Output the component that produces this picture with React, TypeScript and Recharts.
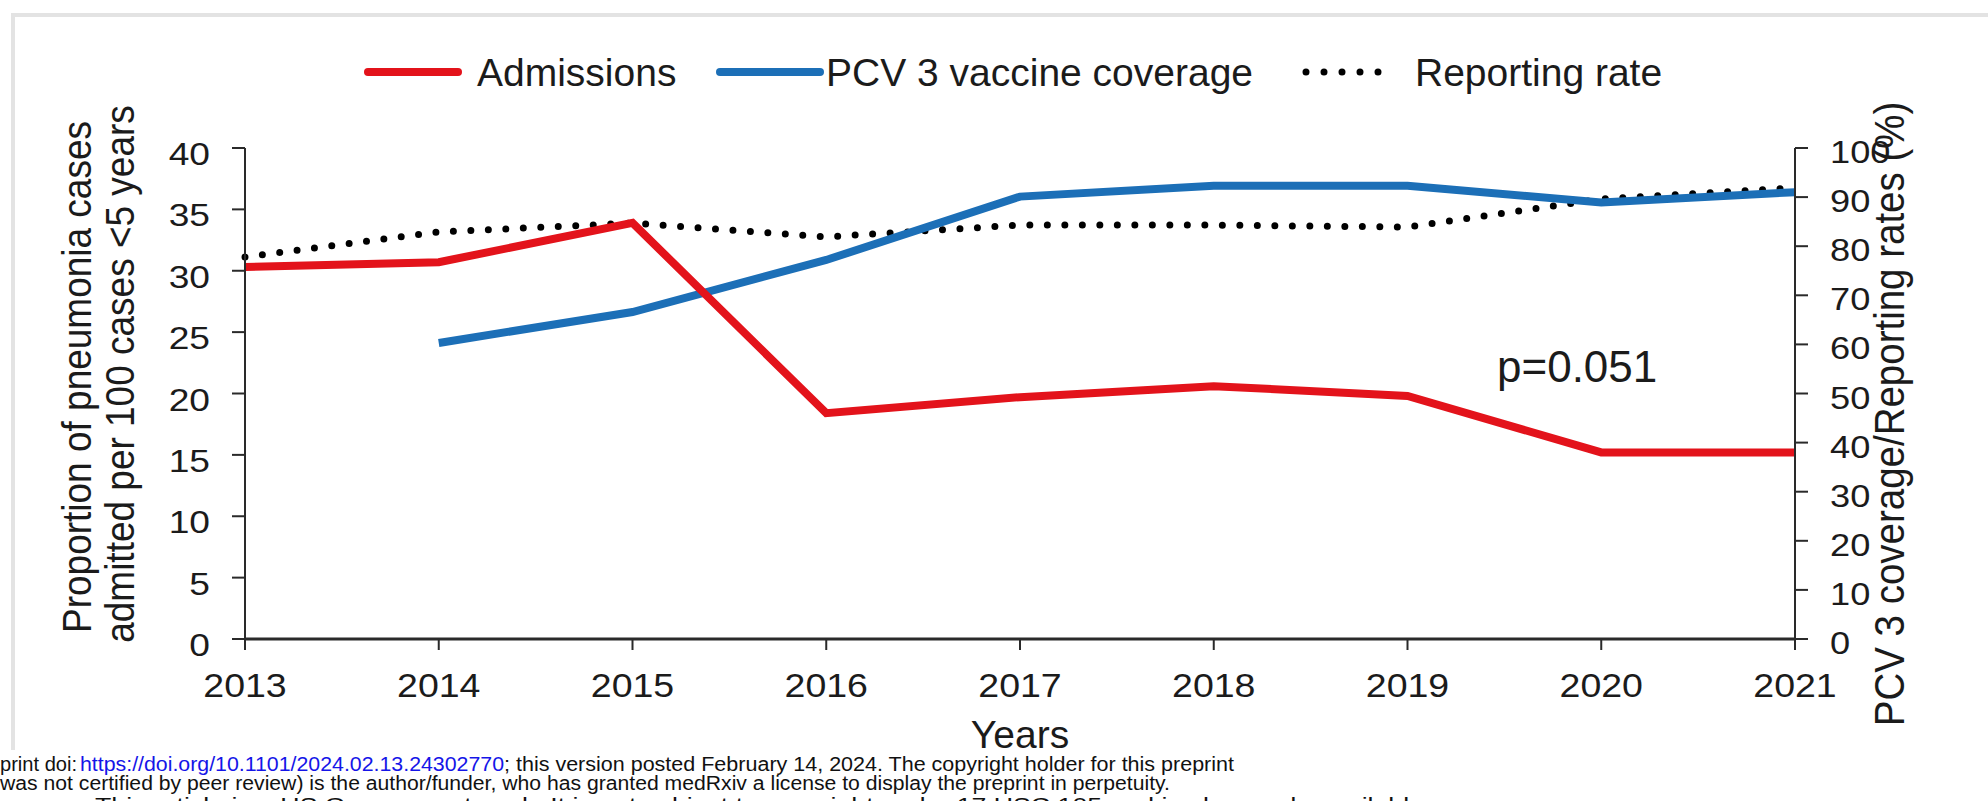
import React from "react";
import { LineChart, Line, XAxis, YAxis, Legend } from "recharts";

const YEARS = ["2013", "2014", "2015", "2016", "2017", "2018", "2019", "2020", "2021"];
const ADMISSIONS = [30.3, 30.7, 33.9, 18.4, 19.7, 20.6, 19.8, 15.2, 15.2];
const PCV3_COVERAGE = [null, 60.3, 66.6, 77.2, 90.1, 92.3, 92.3, 88.9, 91.0];
const REPORTING_RATE = [77.8, 82.9, 84.7, 81.9, 84.3, 84.3, 83.9, 89.6, 91.9];
const LEFT_TICKS = [0, 5, 10, 15, 20, 25, 30, 35, 40];
const RIGHT_TICKS = [0, 10, 20, 30, 40, 50, 60, 70, 80, 90, 100];

const FONT = '"Liberation Sans", Arial, sans-serif';
const INK = "#1b1b1b";
const RED = "#e3131b";
const BLUE = "#1c6fb7";

const data = YEARS.map((year, i) => ({
  year,
  admissions: ADMISSIONS[i],
  coverage: PCV3_COVERAGE[i],
  reporting: REPORTING_RATE[i],
}));

// legend layout: swatch start, swatch end, text x
const LEGEND_ITEMS = [
  { name: "Admissions", color: RED, x1: 368, x2: 458, tx: 477, dotted: false },
  { name: "PCV 3 vaccine coverage", color: BLUE, x1: 720, x2: 820, tx: 826, dotted: false },
  { name: "Reporting rate", color: "#000", x1: 1306, x2: 1396, tx: 1415, dotted: true },
];

function LegendContent() {
  return (
    <svg width={1988} height={110} style={{ display: "block" }}>
      {LEGEND_ITEMS.map((it) => (
        <g key={it.name}>
          <line
            x1={it.x1}
            x2={it.x2}
            y1={72}
            y2={72}
            stroke={it.color}
            strokeWidth={it.dotted ? 7 : 8}
            strokeLinecap="round"
            strokeDasharray={it.dotted ? "0 18" : undefined}
          />
          <text x={it.tx} y={86} fontSize={39} fontFamily={FONT} fill={INK}>
            {it.name}
          </text>
        </g>
      ))}
    </svg>
  );
}

function XTick(props: any) {
  const { x, y, payload } = props;
  return (
    <g transform={`translate(${x},${y}) scale(1.12,1)`}>
      <text textAnchor="middle" dy={24} fontSize={33.5} fontFamily={FONT} fill={INK}>
        {payload.value}
      </text>
    </g>
  );
}

function LeftTick(props: any) {
  const { x, y, payload } = props;
  return (
    <g transform={`translate(${x},${y}) scale(1.18,1)`}>
      <text textAnchor="end" dy={17} fontSize={31.5} fontFamily={FONT} fill={INK}>
        {payload.value}
      </text>
    </g>
  );
}

function RightTick(props: any) {
  const { x, y, payload } = props;
  return (
    <g transform={`translate(${x},${y}) scale(1.15,1)`}>
      <text textAnchor="start" dy={15} fontSize={31.5} fontFamily={FONT} fill={INK}>
        {payload.value}
      </text>
    </g>
  );
}

function LeftTitle() {
  return (
    <g fontFamily={FONT} fontSize={37} fill={INK}>
      <g transform="translate(91,377) rotate(-90) scale(1,1.12)">
        <text textAnchor="middle">Proportion of pneumonia cases</text>
      </g>
      <g transform="translate(134,374) rotate(-90) scale(1,1.12)">
        <text textAnchor="middle">admitted per 100 cases &lt;5 years</text>
      </g>
    </g>
  );
}

function RightTitle() {
  return (
    <g transform="translate(1904,414) rotate(-90) scale(1,1.08)">
      <text textAnchor="middle" fontFamily={FONT} fontSize={38.5} fill={INK}>
        PCV 3 coverage/Reporting rates (%)
      </text>
    </g>
  );
}

function YearsTitle(props: any) {
  const vb = props.viewBox || { x: 245, y: 639, width: 1550 };
  return (
    <text
      x={vb.x + vb.width / 2}
      y={vb.y + 109}
      textAnchor="middle"
      fontFamily={FONT}
      fontSize={39}
      fill={INK}
    >
      Years
    </text>
  );
}

function Overlay() {
  const foot = { fontFamily: FONT, fontSize: 20, fill: "#111" } as const;
  return (
    <svg
      width={1988}
      height={801}
      style={{ position: "absolute", left: 0, top: 0, pointerEvents: "none" }}
    >
      <path d="M13 750 V15 H1988" fill="none" stroke="#e3e3e3" strokeWidth={4} />
      <text x={1497} y={382} fontFamily={FONT} fontSize={44} fill={INK}>
        p=0.051
      </text>
      <text x={0} y={771} textLength={77} lengthAdjust="spacingAndGlyphs" {...foot}>
        print doi:
      </text>
      <text x={80} y={771} textLength={424} lengthAdjust="spacingAndGlyphs" {...foot} fill="#1515e8">
        https://doi.org/10.1101/2024.02.13.24302770
      </text>
      <text x={504} y={771} textLength={730} lengthAdjust="spacingAndGlyphs" {...foot}>
        ; this version posted February 14, 2024. The copyright holder for this preprint
      </text>
      <text x={0} y={790} textLength={1170} lengthAdjust="spacingAndGlyphs" {...foot}>
        was not certified by peer review) is the author/funder, who has granted medRxiv a license to display the preprint in perpetuity.
      </text>
      <text x={95} y={812} textLength={1329} lengthAdjust="spacingAndGlyphs" {...foot}>
        This article is a US Government work. It is not subject to copyright under 17 USC 105 and is also made available
      </text>
    </svg>
  );
}

export default function App() {
  return (
    <div style={{ position: "absolute", left: 0, top: 0, width: 1988, height: 801, background: "#fff" }}>
      <LineChart
        width={1988}
        height={801}
        data={data}
        margin={{ top: 148, right: 93, bottom: 102, left: 145 }}
      >
        <XAxis
          dataKey="year"
          scale="point"
          padding={{ left: 0, right: 0 }}
          height={60}
          tickSize={11}
          tickMargin={23}
          tick={<XTick />}
          axisLine={{ stroke: "#2a2a2a", strokeWidth: 3 }}
          tickLine={{ stroke: "#2a2a2a", strokeWidth: 2 }}
          label={<YearsTitle />}
        />
        <YAxis
          yAxisId="left"
          orientation="left"
          width={100}
          domain={[0, 40]}
          ticks={LEFT_TICKS}
          interval={0}
          tickSize={13}
          tickMargin={22}
          tick={<LeftTick />}
          axisLine={{ stroke: "#2a2a2a", strokeWidth: 2 }}
          tickLine={{ stroke: "#2a2a2a", strokeWidth: 2 }}
          label={<LeftTitle />}
        />
        <YAxis
          yAxisId="right"
          orientation="right"
          width={100}
          domain={[0, 100]}
          ticks={RIGHT_TICKS}
          interval={0}
          tickSize={13}
          tickMargin={22}
          tick={<RightTick />}
          axisLine={{ stroke: "#2a2a2a", strokeWidth: 2 }}
          tickLine={{ stroke: "#2a2a2a", strokeWidth: 2 }}
          label={<RightTitle />}
        />
        <Legend
          layout="horizontal"
          verticalAlign="middle"
          align="center"
          width={1988}
          wrapperStyle={{ top: 0, left: 0 }}
          content={<LegendContent />}
        />
        <Line
          yAxisId="right"
          dataKey="reporting"
          name="Reporting rate"
          type="linear"
          stroke="#000"
          strokeWidth={7}
          strokeLinecap="round"
          strokeDasharray="0 17.5"
          dot={false}
          activeDot={false}
          isAnimationActive={false}
        />
        <Line
          yAxisId="right"
          dataKey="coverage"
          name="PCV 3 vaccine coverage"
          type="linear"
          stroke={BLUE}
          strokeWidth={8}
          dot={false}
          activeDot={false}
          isAnimationActive={false}
        />
        <Line
          yAxisId="left"
          dataKey="admissions"
          name="Admissions"
          type="linear"
          stroke={RED}
          strokeWidth={8}
          dot={false}
          activeDot={false}
          isAnimationActive={false}
        />
      </LineChart>
      <Overlay />
    </div>
  );
}
